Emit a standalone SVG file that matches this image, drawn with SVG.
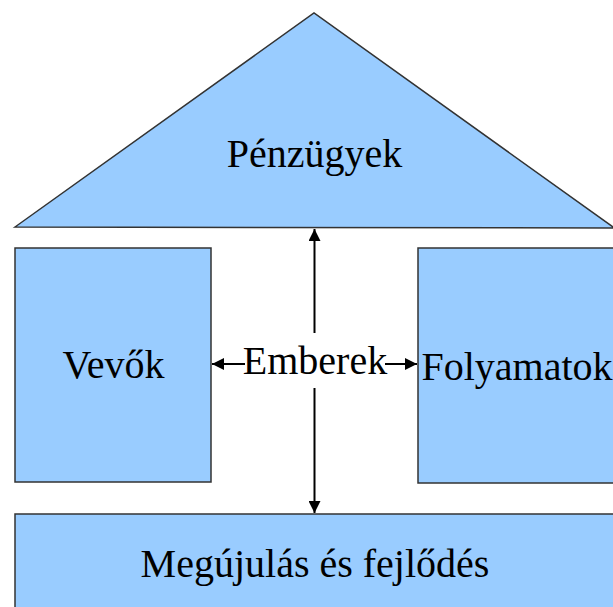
<svg xmlns="http://www.w3.org/2000/svg" width="613" height="607" viewBox="0 0 613 607">
<style>
.shape{fill:#99ccff;stroke:#333;stroke-width:1.5}
.conn{stroke:#000;stroke-width:2;fill:none}
</style>
<defs>
<marker id="ah" viewBox="0 0 10 10" refX="10" refY="5" markerWidth="6" markerHeight="6" orient="auto" markerUnits="strokeWidth">
<path d="M0,0 L10,5 L0,10 z" fill="#000"/>
</marker>
</defs>
<rect width="613" height="607" fill="#fff"/>
<g font-family="Liberation Serif" font-size="40" text-anchor="middle" fill="#000">
<g id="penzugyek">
<polygon class="shape" points="15,227 314,13 613,227 615,227 615,228"/>
<text x="314.5" y="167" fill="#000">Pénzügyek</text>
</g>
<g id="vevok">
<rect class="shape" x="15" y="248" width="196" height="234"/>
<text x="113.5" y="378" fill="#000">Vevők</text>
</g>
<g id="folyamatok">
<rect class="shape" x="418" y="248" width="200" height="235"/>
<text x="517" y="380" fill="#000">Folyamatok</text>
</g>
<g id="megujulas">
<rect class="shape" x="15" y="514" width="603" height="100"/>
<text x="315" y="577" fill="#000">Megújulás és fejlődés</text>
</g>
<g id="emberek">
<text x="315" y="374" fill="#000">Emberek</text>
</g>
</g>
<g id="connectors">
<line class="conn" x1="314.5" y1="333" x2="314.5" y2="229" marker-end="url(#ah)"/>
<line class="conn" x1="314.5" y1="388" x2="314.5" y2="513" marker-end="url(#ah)"/>
<line class="conn" x1="245" y1="364" x2="212" y2="364" marker-end="url(#ah)"/>
<line class="conn" x1="385" y1="364" x2="417" y2="364" marker-end="url(#ah)"/>
</g>
</svg>
